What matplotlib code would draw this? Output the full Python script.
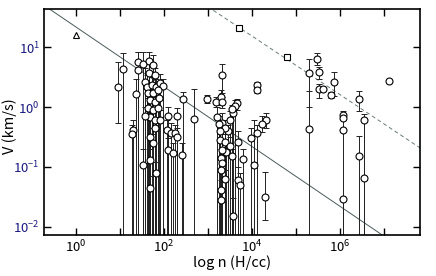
import numpy as np
import matplotlib.pyplot as plt
from matplotlib.ticker import LogLocator, FixedLocator, FixedFormatter

plt.rcParams['font.family'] = ['Noto Sans CJK JP', 'DejaVu Sans']
plt.rcParams['mathtext.fontset'] = 'custom'
plt.rcParams['mathtext.rm'] = 'Noto Sans CJK JP'

# log10 of density n (H/cc), velocity V (km/s), upper / lower error limits
# (lower limit 0 -> error bar runs down below the axis)
logn = [0.95, 1.07, 1.36, 1.30, 1.28, 1.42, 1.42, 1.53, 1.66, 1.76,
        1.57, 1.67, 1.80, 1.61, 1.72, 1.83, 1.91, 1.98, 1.64, 1.76,
        1.87, 1.68, 1.80, 1.89, 1.64, 1.76, 1.87, 1.68, 1.57, 1.80,
        1.91, 2.10, 2.29, 2.44, 2.06, 2.15, 2.25, 1.68, 1.80, 2.29,
        1.76, 2.10, 2.20, 2.40, 1.68, 1.53, 1.82, 1.68, 2.68, 2.99,
        3.33, 3.18, 3.29, 3.31, 4.12, 4.12, 3.21, 3.31, 3.25, 3.50,
        3.58, 3.67, 3.61, 3.54, 4.32, 4.22, 4.12, 3.99, 3.69, 3.46,
        3.39, 3.27, 3.27, 3.39, 3.50, 3.42, 3.31, 3.29, 3.54, 3.33,
        3.29, 3.39, 3.29, 3.29, 3.58, 3.79, 3.69, 3.73, 4.05, 4.30,
        5.47, 5.53, 5.30, 5.30, 5.53, 5.62, 5.86, 5.79, 6.44, 6.07,
        6.07, 6.07, 6.07, 6.55, 6.44, 6.55, 7.11]
v = [2.2, 4.3, 1.64, 0.41, 0.35, 5.7, 4.2, 5.25, 6.0, 5.0,
     2.6, 3.7, 3.4, 2.2, 2.3, 2.2, 2.5, 2.25, 1.7, 1.7,
     1.93, 1.32, 1.23, 1.4, 0.95, 0.9, 0.95, 0.69, 0.72, 0.61,
     0.61, 0.72, 0.71, 1.35, 0.41, 0.37, 0.37, 0.31, 0.44, 0.32,
     0.25, 0.19, 0.17, 0.158, 0.13, 0.107, 0.078, 0.044, 0.63, 1.38,
     3.4, 1.2, 1.46, 1.2, 2.35, 1.93, 0.69, 0.55, 0.53, 0.61,
     0.79, 1.16, 1.06, 0.93, 0.61, 0.52, 0.37, 0.30, 0.26, 0.39,
     0.44, 0.39, 0.28, 0.26, 0.22, 0.18, 0.19, 0.14, 0.15, 0.115,
     0.09, 0.062, 0.041, 0.028, 0.015, 0.135, 0.06, 0.05, 0.107, 0.031,
     6.3, 3.8, 3.7, 0.43, 2.0, 2.0, 2.66, 1.59, 1.38, 0.74,
     0.65, 0.41, 0.029, 0.61, 0.152, 0.066, 2.7]
v_hi = [5.7, 8.1, 3.0, 0.6, 0.5, 8.3, 8.3, 8.3, 8.5, 7.5,
        4.5, 5.5, 4.5, 3.5, 3.2, 3.0, 3.6, 3.0, 2.5, 2.4,
        2.6, 1.8, 1.7, 2.0, 1.4, 1.3, 1.3, 1.0, 1.0, 0.9,
        0.9, 1.0, 0.95, 1.8, 0.6, 0.55, 0.5, 0.45, 0.6, 0.45,
        0.35, 0.3, 0.25, 0.25, 0.2, 0.2, 0.12, 0.07, 2.0, 1.6,
        5.2, 1.45, 1.9, 1.5, 2.6, 2.1, 1.0, 0.8, 0.7, 0.85,
        1.0, 1.35, 1.3, 1.1, 0.8, 0.7, 0.5, 0.45, 0.4, 0.5,
        0.6, 0.55, 0.4, 0.35, 0.32, 0.25, 0.28, 0.2, 0.2, 0.16,
        0.13, 0.09, 0.06, 0.04, 0.03, 0.2, 0.1, 0.08, 0.6, 0.083,
        8.1, 4.7, 6.3, 1.86, 2.4, 2.0, 3.8, 1.8, 1.88, 0.87,
        0.65, 0.41, 0.029, 0.78, 0.33, 0.6, 2.85]
v_lo = [0.54, 0, 0, 0, 0, 0, 0, 0, 0, 2.0,
        0, 0, 1.5, 0, 0, 0, 0.9, 0, 0, 0,
        0, 0, 0, 0, 0, 0, 0, 0, 0, 0,
        0, 0, 0, 0, 0, 0, 0, 0, 0, 0,
        0, 0, 0, 0, 0, 0, 0, 0, 0, 1.15,
        1.7, 1.0, 1.1, 0.95, 2.1, 1.75, 0, 0, 0, 0,
        0, 0.9, 0, 0, 0.45, 0.38, 0, 0, 0, 0,
        0, 0, 0, 0, 0, 0, 0, 0, 0, 0,
        0, 0, 0, 0, 0, 0, 0, 0, 0, 0.013,
        5.0, 3.0, 1.0, 0, 1.43, 2.0, 1.53, 1.4, 0.87, 0,
        0.65, 0.41, 0, 0, 0, 0, 2.55]

# square symbols and the single triangle
sq_logn = [3.70, 4.79]
sq_v = [21.0, 7.0]
tri_logn = [0.0]
tri_v = [16.0]

# power-law lines V = A * n^slope
solid_a, solid_slope = 10**1.34, -0.5
dash_a, dash_slope = 10**3.15, -0.49

n = 10**np.array(logn)
v = np.array(v)
lo = np.where(np.array(v_lo) > 0, np.array(v_lo), 1e-4)
hi = np.array(v_hi)

fig = plt.figure(figsize=(4.36, 2.76), dpi=100)
ax = fig.add_axes([0.101, 0.149, 0.862, 0.818])

nn = np.logspace(-1, 9, 50)
ax.plot(nn, solid_a * nn**solid_slope, color='#4a5a5a', lw=0.7, zorder=1)
ax.plot(nn, dash_a * nn**dash_slope, color='#6a7a7a', lw=0.7, ls=(0, (4, 3)), zorder=1)

ax.errorbar(n, v, yerr=[v - lo, hi - v], fmt='none', ecolor='#222222',
            elinewidth=0.7, capsize=2.5, capthick=0.7, zorder=2)
ax.plot(n, v, 'o', ms=5, mfc='white', mec='black', mew=0.8, zorder=3)
ax.plot(10**np.array(sq_logn), sq_v, 's', ms=4.5, mfc='white', mec='black', mew=0.8, zorder=3)
ax.plot(10**np.array(tri_logn), tri_v, '^', ms=4.5, mfc='white', mec='black', mew=0.8, zorder=3)

ax.set_xscale('log')
ax.set_yscale('log')
ax.set_xlim(10**-0.727, 10**7.82)
ax.set_ylim(10**-2.14, 10**1.64)

xt = [10.0**k for k in range(0, 8)]
xl = ['$10^{%d}$' % k if k % 2 == 0 else '' for k in range(0, 8)]
ax.xaxis.set_major_locator(FixedLocator(xt))
ax.xaxis.set_major_formatter(FixedFormatter(xl))
ax.xaxis.set_minor_locator(plt.NullLocator())
ax.yaxis.set_major_locator(LogLocator(base=10, numticks=10))
ax.yaxis.set_minor_locator(plt.NullLocator())

ax.tick_params(which='major', direction='in', length=5, width=1, top=True, right=True,
               labelsize=9.5, pad=3)
for lab in ax.get_yticklabels():
    lab.set_color('#1a1a80')
for s in ax.spines.values():
    s.set_linewidth(1.2)

ax.set_xlabel('log n (H/cc)', fontsize=10.5)
ax.set_ylabel('V (km/s)', fontsize=10.5)
ax.xaxis.set_label_coords(0.5, -0.09)
ax.yaxis.set_label_coords(-0.072, 0.48)

fig.savefig('out.png', dpi=100)
